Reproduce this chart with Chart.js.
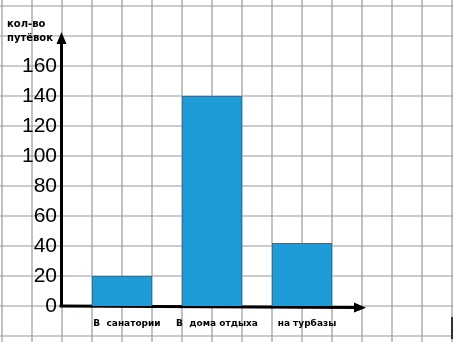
<!DOCTYPE html>
<html>
<head>
<meta charset="utf-8">
<script src="https://cdn.jsdelivr.net/npm/chart.js@4/dist/chart.umd.min.js"></script>
<style>
  html, body { margin: 0; padding: 0; background: #fff; }
  #wrap { width: 453px; height: 342px; }
</style>
</head>
<body>
<div id="wrap"><canvas id="chart"></canvas></div>
<script>
const categories = ['В  санатории', 'В  дома отдыха', 'на турбазы'];
const tripCounts = [20, 140, 42];
const yTicks = [0, 20, 40, 60, 80, 100, 120, 140, 160];
const axisTitle = ['кол-во', 'путёвок'];

// graph paper + hand drawn axes with arrows
const paperPlugin = {
    id: 'paper',
    beforeDraw(chart) {
        const ctx = chart.ctx;
        const y = chart.scales.y;
        const x = chart.scales.x;
        const step = y.getPixelForValue(0) - y.getPixelForValue(20);
        const y0 = y.getPixelForValue(0);
        const x0 = x.left - step / 2;
        ctx.save();
        ctx.fillStyle = '#fff';
        ctx.fillRect(0, 0, chart.width, chart.height);
        ctx.strokeStyle = '#9a9a9a';
        ctx.lineWidth = 1.2;
        ctx.beginPath();
        for (let py = y0 - Math.floor(y0 / step) * step; py < chart.height; py += step) {
            ctx.moveTo(0, py);
            ctx.lineTo(chart.width, py);
        }
        for (let px = x0 - Math.floor(x0 / step) * step; px < chart.width; px += step) {
            ctx.moveTo(px, 0);
            ctx.lineTo(px, chart.height);
        }
        ctx.stroke();

        ctx.fillStyle = '#000';
        ctx.font = 'bold 10px "DejaVu Sans"';
        ctx.textBaseline = 'middle';
        ctx.textAlign = 'left';
        ctx.fillText(axisTitle[0], 7, 24);
        ctx.fillText(axisTitle[1], 7, 38);
        ctx.restore();
    },
    beforeDatasetsDraw(chart) {
        const ctx = chart.ctx;
        const y = chart.scales.y;
        const x = chart.scales.x;
        const step = y.getPixelForValue(0) - y.getPixelForValue(20);
        const ax = x.left - step / 2 - 0.5;
        const ay = y.getPixelForValue(0);
        ctx.save();
        ctx.strokeStyle = '#000';
        ctx.fillStyle = '#000';
        ctx.lineWidth = 3;
        ctx.beginPath();
        ctx.moveTo(ax, ay + 1.5);
        ctx.lineTo(ax, 40);
        ctx.moveTo(ax - 2, ay);
        ctx.lineTo(x.right + 10, ay + 1.5);
        ctx.stroke();
        ctx.beginPath();
        ctx.moveTo(ax, 32);
        ctx.lineTo(ax - 5, 44);
        ctx.lineTo(ax + 5, 44);
        ctx.closePath();
        ctx.fill();
        ctx.beginPath();
        ctx.moveTo(x.right + 19, ay + 1.8);
        ctx.lineTo(x.right + 7, ay - 3.5);
        ctx.lineTo(x.right + 7, ay + 6.5);
        ctx.closePath();
        ctx.fill();
        // little scan mark at the bottom right edge
        ctx.lineWidth = 1.5;
        ctx.beginPath();
        ctx.moveTo(chart.width - 1, ay + 11);
        ctx.lineTo(chart.width - 1, chart.height - 3);
        ctx.stroke();
        ctx.restore();
    }
};

new Chart(document.getElementById('chart'), {
    type: 'bar',
    data: {
        labels: categories,
        datasets: [{
            data: tripCounts,
            backgroundColor: '#1e9cd8',
            borderColor: '#1a78a8',
            borderWidth: 1,
            barPercentage: 0.667,
            categoryPercentage: 1
        }]
    },
    options: {
        responsive: true,
        maintainAspectRatio: false,
        animation: false,
        layout: { padding: { top: 66, right: 106, left: 0, bottom: 0 } },
        plugins: {
            legend: { display: false },
            tooltip: { enabled: false }
        },
        scales: {
            x: {
                grid: { display: false, drawTicks: false },
                border: { display: false },
                afterFit(scale) { scale.height = 36; },
                ticks: {
                    padding: 12,
                    labelOffset: 5,
                    color: '#000',
                    font: { family: 'DejaVu Sans', size: 9, weight: 'bold' }
                }
            },
            y: {
                min: 0,
                max: 160,
                grid: { display: false, drawTicks: false },
                border: { display: false },
                afterFit(scale) { scale.width = 77; },
                afterBuildTicks(scale) { scale.ticks = yTicks.map(v => ({ value: v })); },
                ticks: {
                    padding: 20,
                    color: '#000',
                    font: { family: 'Liberation Sans', size: 21 }
                }
            }
        }
    },
    plugins: [paperPlugin]
});
</script>
</body>
</html>
